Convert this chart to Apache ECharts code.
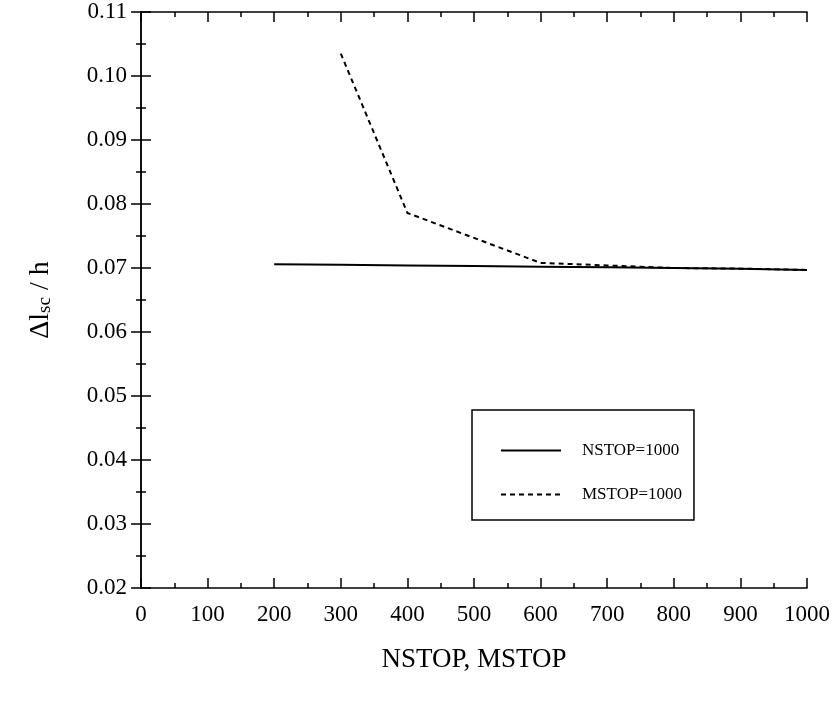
<!DOCTYPE html>
<html>
<head>
<meta charset="utf-8">
<script src="https://cdn.jsdelivr.net/npm/echarts@6/dist/echarts.min.js"></script>
<style>
  html, body { margin: 0; padding: 0; background: #fff; }
  #main { width: 834px; height: 704px; }
</style>
</head>
<body>
<div id="main"></div>
<script>
// data
var nstopX = [200, 300, 400, 500, 600, 700, 800, 900, 1000];
var nstopY = [0.0706, 0.0705, 0.0704, 0.0703, 0.0702, 0.0701, 0.0700, 0.0699, 0.0697];
var mstopX = [300, 400, 500, 600, 700, 800, 900, 1000];
var mstopY = [0.1035, 0.0786, 0.0747, 0.0708, 0.0704, 0.0700, 0.0699, 0.0697];

function pairs(xs, ys) {
  return xs.map(function (x, i) { return [x, ys[i]]; });
}

var font = 'Liberation Serif';
var chart = echarts.init(document.getElementById('main'));

// fresh tick settings for every axis, ticks point into the plot
function ticks(extra) {
  var o = {
    axisLine: { show: true, lineStyle: { color: '#000', width: 1.5 } },
    axisTick: { show: true, inside: true, length: 10, lineStyle: { color: '#000', width: 1.5 } },
    minorTick: { show: true, splitNumber: 2, length: 5, lineStyle: { color: '#000', width: 1.5 } },
    splitLine: { show: false }
  };
  for (var k in extra) o[k] = extra[k];
  return o;
}

var option = {
  animation: false,
  backgroundColor: '#fff',
  grid: { left: 141, right: 27, top: 12, bottom: 116, show: false, outerBoundsMode: 'none' },
  legend: {
    orient: 'vertical',
    left: 472,
    top: 410,
    padding: [32, 12, 17, 28],
    itemWidth: 60,
    itemHeight: 14,
    itemGap: 27,
    borderColor: '#000',
    borderWidth: 1.5,
    itemStyle: { opacity: 0 },
    textStyle: { fontFamily: font, fontSize: 17, color: '#000', padding: [0, 0, 0, 16] },
    data: ['NSTOP=1000', 'MSTOP=1000']
  },
  xAxis: [
    ticks({
      type: 'value', min: 0, max: 1000, interval: 100,
      name: 'NSTOP, MSTOP', nameLocation: 'middle', nameGap: 58,
      nameTextStyle: { fontFamily: font, fontSize: 27, color: '#000' },
      axisLabel: {
        fontFamily: font, fontSize: 23, color: '#000', margin: 15,
        formatter: function (v) { return String(v); }
      }
    }),
    ticks({
      type: 'value', min: 0, max: 1000, interval: 100, position: 'top',
      axisLabel: { show: false }
    })
  ],
  yAxis: [
    ticks({
      type: 'value', min: 0.02, max: 0.11, interval: 0.01, position: 'left',
      name: '{n|Δl}{s|sc}{n| / h}', nameLocation: 'middle', nameGap: 86, nameRotate: 90,
      nameTextStyle: {
        fontFamily: font, fontSize: 28, color: '#000',
        rich: {
          n: { fontFamily: font, fontSize: 28, color: '#000' },
          s: { fontFamily: font, fontSize: 19, color: '#000', verticalAlign: 'bottom', padding: [10, 0, 0, 0] }
        }
      },
      axisLabel: {
        fontFamily: font, fontSize: 23, color: '#000', margin: 14,
        formatter: function (v) { return v.toFixed(2); }
      }
    }),
    ticks({
      type: 'value', min: 0.02, max: 0.11, interval: 0.01, position: 'right',
      axisLabel: { show: false }
    })
  ],
  series: [
    {
      name: 'NSTOP=1000', type: 'line', symbol: 'none',
      lineStyle: { color: '#000', width: 2 },
      itemStyle: { color: '#000' },
      data: pairs(nstopX, nstopY)
    },
    {
      name: 'MSTOP=1000', type: 'line', symbol: 'none',
      lineStyle: { color: '#000', width: 2, type: [5, 4] },
      itemStyle: { color: '#000' },
      data: pairs(mstopX, mstopY)
    }
  ]
};

chart.setOption(option);
</script>
</body>
</html>
